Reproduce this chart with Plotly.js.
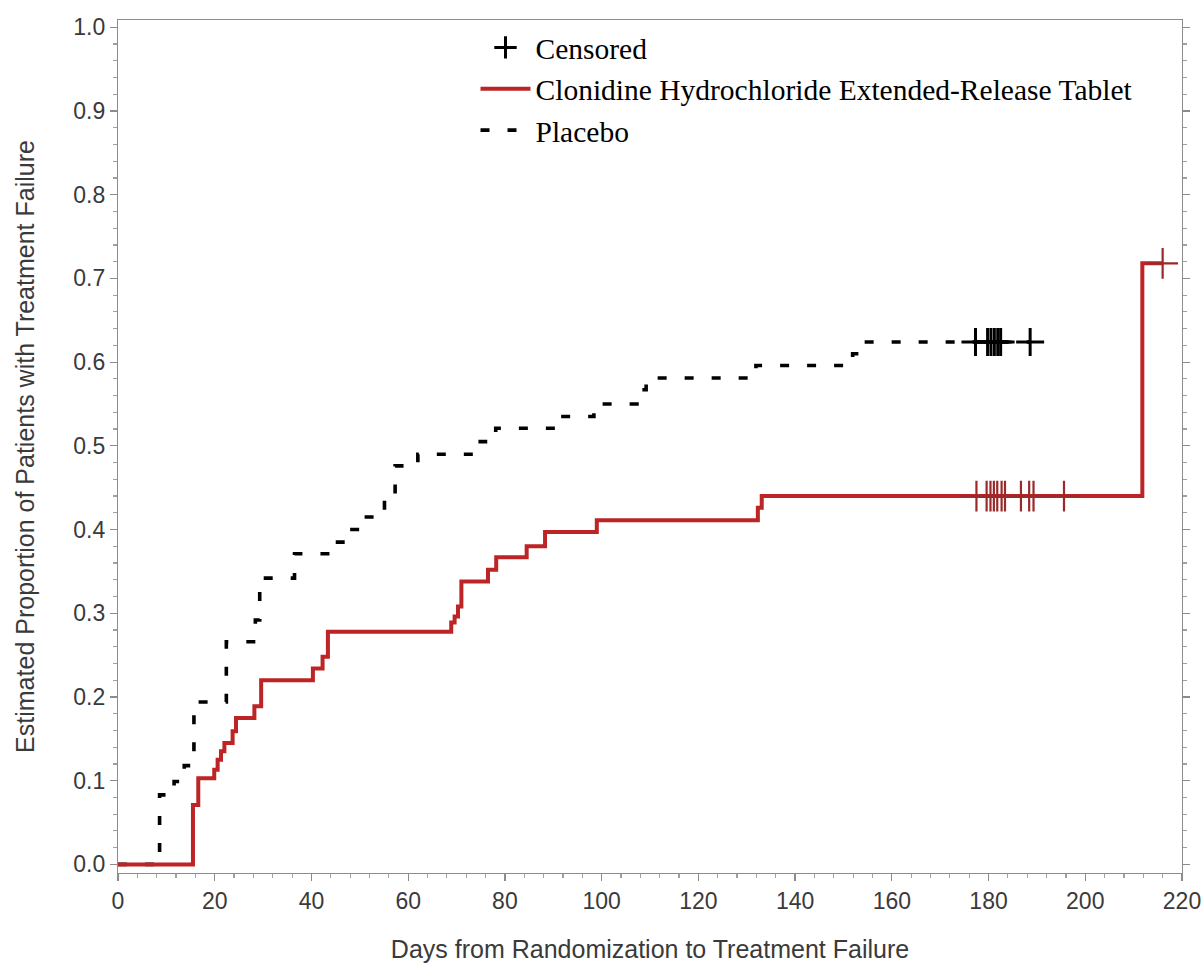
<!DOCTYPE html>
<html>
<head>
<meta charset="utf-8">
<script src="https://cdn.plot.ly/plotly-3.0.1.min.js"></script>
<style>html,body{margin:0;padding:0;background:#fff;}#chart{width:1201px;height:968px;}</style>
</head>
<body>
<div id="chart"></div>
<script>
// Kaplan-Meier step data (days, cumulative proportion with treatment failure)
var cloDays  = [0, 15.5, 16.6, 19.9, 20.6, 21.3, 22.0, 23.7, 24.4, 28.2, 29.6, 40.3, 42.3, 43.4, 68.9, 69.6, 70.3, 71.0, 76.5, 78.2, 84.5, 88.3, 99.0, 132.3, 133.1, 211.8, 216.0];
var cloProb  = [0, 0.071, 0.103, 0.113, 0.125, 0.135, 0.145, 0.159, 0.175, 0.189, 0.220, 0.234, 0.248, 0.278, 0.289, 0.296, 0.308, 0.338, 0.352, 0.367, 0.380, 0.397, 0.411, 0.426, 0.440, 0.718, 0.718];

var placeboDays = [0, 8.6, 11.6, 13.7, 15.7, 22.4, 28.4, 29.3, 36.5, 44.0, 46.5, 50.3, 55.1, 57.3, 62.0, 74.9, 78.1, 91.6, 98.4, 107.3, 109.2, 131.9, 151.9, 153.6, 188.6];
var placeboProb = [0, 0.083, 0.099, 0.118, 0.194, 0.266, 0.292, 0.342, 0.371, 0.385, 0.400, 0.415, 0.443, 0.476, 0.490, 0.505, 0.521, 0.535, 0.550, 0.567, 0.581, 0.596, 0.610, 0.624, 0.624];

// Censored observations
var cloCensorDays = [177.5, 179.6, 180.4, 181.1, 181.8, 182.7, 183.4, 186.7, 188.4, 189.3, 195.6, 216.0];
var cloCensorProb = [0.440, 0.440, 0.440, 0.440, 0.440, 0.440, 0.440, 0.440, 0.440, 0.440, 0.440, 0.718];
var placeboCensorDays = [177.3, 179.8, 180.5, 181.2, 181.9, 182.5, 188.6];
var placeboCensorProb = [0.624, 0.624, 0.624, 0.624, 0.624, 0.624, 0.624];

// Labels
var seriesNames = ['Censored', 'Clonidine Hydrochloride Extended-Release Tablet', 'Placebo'];
var xTitle = 'Days from Randomization to Treatment Failure';
var yTitle = 'Estimated Proportion of Patients with Treatment Failure';

var RED = '#bd2426';
var traces = [
  {
    x: placeboDays, y: placeboProb, type: 'scatter', mode: 'lines',
    line: {shape: 'hv', color: '#000', width: 3.6, dash: '9px,18px'},
    name: seriesNames[2], legendrank: 3
  },
  {
    x: cloDays, y: cloProb, type: 'scatter', mode: 'lines',
    line: {shape: 'hv', color: RED, width: 4},
    name: seriesNames[1], legendrank: 2
  },
  {
    x: cloCensorDays, y: cloCensorProb, type: 'scatter', mode: 'markers',
    marker: {symbol: 'cross-thin', size: 22, line: {color: '#9a2a2a', width: 2.2}},
    showlegend: false, name: 'Censored (Clonidine)'
  },
  {
    x: placeboCensorDays, y: placeboCensorProb, type: 'scatter', mode: 'markers',
    marker: {symbol: 'cross-thin', size: 20, line: {color: '#000', width: 3}},
    name: seriesNames[0], legendrank: 1
  }
];

var axisFont = {family: 'Liberation Sans, Arial, sans-serif', size: 23, color: '#3a3a3a'};
var layout = {
  width: 1201, height: 968,
  margin: {l: 118, r: 19, t: 20, b: 95},
  paper_bgcolor: '#fff', plot_bgcolor: '#fff',
  showlegend: true,
  legend: {
    x: 0.336, y: 0.998, xanchor: 'left', yanchor: 'top',
    font: {family: 'Liberation Serif, Times New Roman, serif', size: 29.5, color: '#000'},
    bgcolor: 'rgba(0,0,0,0)', traceorder: 'normal', itemwidth: 50, tracegroupgap: 0
  },
  xaxis: {
    range: [0, 220], dtick: 20, tick0: 0,
    showline: true, linecolor: '#8c8c8c', linewidth: 1.2, mirror: true,
    ticks: 'outside', ticklen: 7, tickcolor: '#8c8c8c', tickwidth: 1.2,
    minor: {dtick: 4, ticks: 'outside', ticklen: 4, tickcolor: '#a0a0a0', showgrid: false},
    showgrid: false, zeroline: false, ticklabeloverflow: 'allow',
    tickfont: axisFont,
    title: {text: xTitle, font: {family: 'Liberation Sans, Arial, sans-serif', size: 25, color: '#3a3a3a'}, standoff: 27}
  },
  yaxis: {
    range: [-0.0103, 1.0087], dtick: 0.1, tick0: 0, tickformat: '.1f',
    showline: true, linecolor: '#8c8c8c', linewidth: 1.2, mirror: 'ticks',
    ticks: 'outside', ticklen: 7, tickcolor: '#8c8c8c', tickwidth: 1.2,
    minor: {dtick: 0.02, ticks: 'outside', ticklen: 4, tickcolor: '#a0a0a0', showgrid: false},
    showgrid: false, zeroline: false,
    tickfont: axisFont,
    title: {text: yTitle, font: {family: 'Liberation Sans, Arial, sans-serif', size: 25, color: '#3a3a3a'}, standoff: 31}
  }
};

Plotly.newPlot('chart', traces, layout, {displayModeBar: false, staticPlot: true});
</script>
</body>
</html>
